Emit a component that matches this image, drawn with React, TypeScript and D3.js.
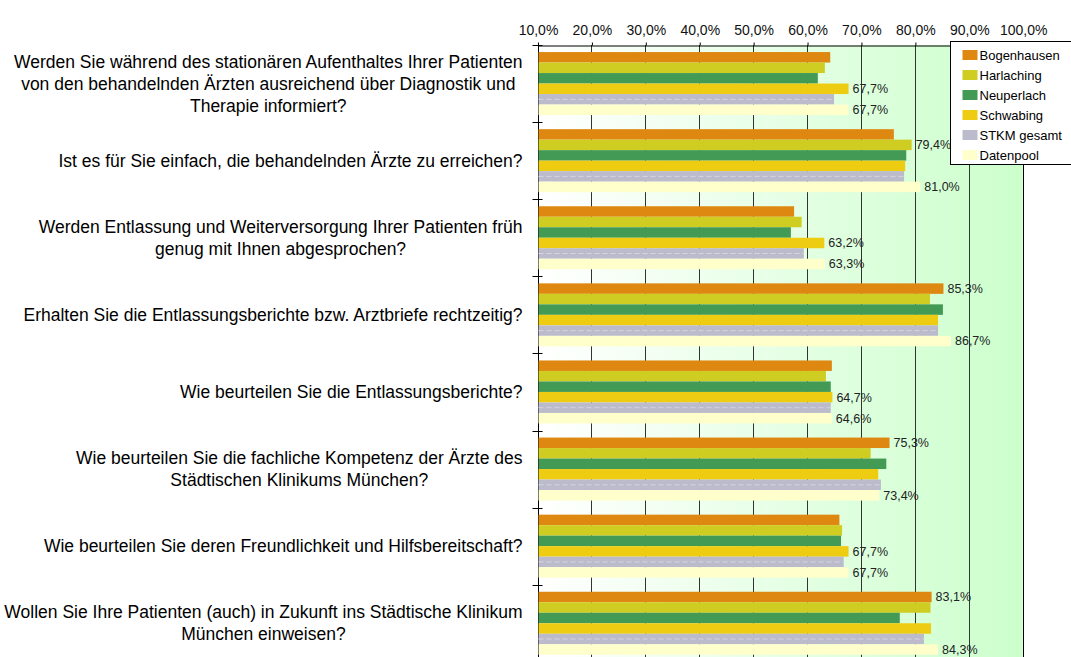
import React, { useRef, useEffect } from "react";
import * as d3 from "d3";

const categories = [
  ["Werden Sie während des stationären Aufenthaltes Ihrer Patienten", "von den behandelnden Ärzten ausreichend über Diagnostik und", "Therapie informiert?"],
  ["Ist es für Sie einfach, die behandelnden Ärzte zu erreichen?"],
  ["Werden Entlassung und Weiterversorgung Ihrer Patienten früh", "genug mit Ihnen abgesprochen?"],
  ["Erhalten Sie die Entlassungsberichte bzw. Arztbriefe rechtzeitig?"],
  ["Wie beurteilen Sie die Entlassungsberichte?"],
  ["Wie beurteilen Sie die fachliche Kompetenz der Ärzte des", "Städtischen Klinikums München?"],
  ["Wie beurteilen Sie deren Freundlichkeit und Hilfsbereitschaft?"],
  ["Wollen Sie Ihre Patienten (auch) in Zukunft ins Städtische Klinikum", "München einweisen?"],
];

const seriesNames = ["Bogenhausen", "Harlaching", "Neuperlach", "Schwabing", "STKM gesamt", "Datenpool"];
const seriesColors = ["#df8811", "#cfcd22", "#439a55", "#eecc11", "#bbbbcc", "#ffffcc"];

const bogenhausen = [64.3, 76.1, 57.6, 85.3, 64.6, 75.3, 66.0, 83.1];
const harlaching = [63.3, 79.4, 59.0, 82.8, 63.5, 71.8, 66.5, 82.9];
const neuperlach = [62.0, 78.4, 57.0, 85.2, 64.4, 74.7, 66.3, 77.2];
const schwabing = [67.7, 78.2, 63.2, 84.3, 64.7, 73.2, 67.7, 83.0];
const stkmGesamt = [65.0, 78.0, 59.4, 84.3, 64.4, 73.7, 66.8, 81.7];
const datenpool = [67.7, 81.0, 63.3, 86.7, 64.6, 73.4, 67.7, 84.3];

// which series carry a value label, per category
const labeledSeries = [[3, 5], [1, 5], [3, 5], [0, 5], [3, 5], [0, 5], [3, 5], [0, 5]];

const tickValues = [10, 20, 30, 40, 50, 60, 70, 80, 90, 100];

const FONT = "'Liberation Sans', Arial, sans-serif";
const fmt = (v: number) => v.toFixed(1).replace(".", ",") + "%";

function App() {
  const svgRef = useRef<SVGSVGElement>(null);

  useEffect(() => {
    const svg = d3.select(svgRef.current);
    svg.selectAll("*").remove();

    const values = [bogenhausen, harlaching, neuperlach, schwabing, stkmGesamt, datenpool];
    const top = 45;
    const step = 77.1;
    const n = categories.length;

    const x = d3.scaleLinear().domain([10, 100]).range([537.5, 1022.7]);
    const y = d3
      .scaleBand<number>()
      .domain(d3.range(n))
      .range([top, top + n * step])
      .paddingInner(0.183)
      .paddingOuter(0.0915);
    const yInner = d3.scaleBand<number>().domain(d3.range(seriesNames.length)).range([0, y.bandwidth()]);

    const defs = svg.append("defs");
    const grad = defs.append("linearGradient").attr("id", "bg").attr("x1", 0).attr("x2", 1).attr("y1", 0).attr("y2", 0);
    grad.append("stop").attr("offset", "0%").attr("stop-color", "#ffffff");
    grad.append("stop").attr("offset", "100%").attr("stop-color", "#ccffcc");

    // plot background
    svg
      .append("rect")
      .attr("x", x(10))
      .attr("y", top)
      .attr("width", x(100) - x(10))
      .attr("height", n * step + 10)
      .attr("fill", "url(#bg)");

    // vertical grid lines
    svg
      .append("g")
      .selectAll("line")
      .data(tickValues)
      .join("line")
      .attr("x1", (d) => Math.round(x(d)) + 0.5)
      .attr("x2", (d) => Math.round(x(d)) + 0.5)
      .attr("y1", top)
      .attr("y2", top + n * step + 10)
      .attr("stroke", (d) => (d === 100 ? "#000" : "#333"))
      .attr("stroke-width", 1);

    // top axis
    const xAxis = d3
      .axisTop(x)
      .tickValues(tickValues)
      .tickFormat((d) => fmt(d as number))
      .tickSize(3)
      .tickSizeOuter(0);
    const gx = svg.append("g").attr("transform", `translate(0.5,${top + 0.5})`).call(xAxis);
    gx.select(".domain").attr("stroke", "#000");
    gx.selectAll(".tick line").attr("stroke", "#000");
    gx.selectAll("text")
      .attr("font-family", FONT)
      .attr("font-size", 14)
      .attr("fill", "#111")
      .attr("y", -11);

    // left axis line with category separators
    svg
      .append("line")
      .attr("x1", Math.round(x(10)) + 0.5)
      .attr("x2", Math.round(x(10)) + 0.5)
      .attr("y1", top)
      .attr("y2", top + n * step + 10)
      .attr("stroke", "#000");
    svg
      .append("g")
      .selectAll("line")
      .data(d3.range(n + 1))
      .join("line")
      .attr("x1", x(10) - 5)
      .attr("x2", x(10) + 5)
      .attr("y1", (i) => Math.round(top + i * step) + 0.5)
      .attr("y2", (i) => Math.round(top + i * step) + 0.5)
      .attr("stroke", "#000");

    // bars
    const groups = svg
      .append("g")
      .selectAll("g")
      .data(d3.range(n))
      .join("g")
      .attr("transform", (i) => `translate(0,${y(i)})`);

    groups.each(function (ci) {
      const g = d3.select(this);
      seriesNames.forEach((name, si) => {
        const v = values[si][ci];
        const by = yInner(si)!;
        const bh = yInner.bandwidth();
        g.append("rect")
          .attr("x", x(10) + 1)
          .attr("y", by)
          .attr("width", x(v) - x(10) - 1)
          .attr("height", bh)
          .attr("fill", seriesColors[si]);
        if (name === "STKM gesamt") {
          g.append("line")
            .attr("x1", x(10) + 1)
            .attr("x2", x(v))
            .attr("y1", by + bh / 2)
            .attr("y2", by + bh / 2)
            .attr("stroke", "#d6d6e0")
            .attr("stroke-dasharray", "5,3");
        }
        if (labeledSeries[ci].includes(si)) {
          g.append("text")
            .attr("x", x(v) + 4)
            .attr("y", by + bh / 2)
            .attr("dy", "0.35em")
            .attr("font-family", FONT)
            .attr("font-size", 12.5)
            .attr("fill", "#222")
            .text(fmt(v));
        }
      });
    });

    // category labels: block right-aligned, lines centered in block
    const labelRight = 522.5;
    const lineH = 22;
    categories.forEach((lines, ci) => {
      const cy = top + ci * step + step / 2;
      const g = svg.append("g");
      const texts = g
        .selectAll("text")
        .data(lines)
        .join("text")
        .attr("y", (d, li) => cy + (li - (lines.length - 1) / 2) * lineH)
        .attr("dy", "0.35em")
        .attr("font-family", FONT)
        .attr("font-size", 17.5)
        .attr("fill", "#000")
        .attr("text-anchor", "middle")
        .text((d) => d);
      let maxW = 0;
      texts.each(function () {
        maxW = Math.max(maxW, (this as SVGTextElement).getComputedTextLength());
      });
      texts.attr("x", labelRight - maxW / 2);
    });

    // legend
    const lg = svg.append("g").attr("transform", "translate(950.5,41.5)");
    lg.append("rect").attr("width", 140).attr("height", 123).attr("fill", "#fff").attr("stroke", "#000");
    seriesNames.forEach((name, si) => {
      const ly = 9 + si * 20;
      lg.append("rect")
        .attr("x", 12)
        .attr("y", ly - 0.5)
        .attr("width", 15)
        .attr("height", 10)
        .attr("fill", seriesColors[si]);
      lg.append("text")
        .attr("x", 29)
        .attr("y", ly + 5)
        .attr("dy", "0.35em")
        .attr("font-family", FONT)
        .attr("font-size", 13)
        .attr("fill", "#000")
        .text(name);
    });
  }, []);

  return (
    <svg
      ref={svgRef}
      width={1071}
      height={657}
      style={{ position: "absolute", left: 0, top: 0, background: "#fff" }}
    />
  );
}

export default App;
